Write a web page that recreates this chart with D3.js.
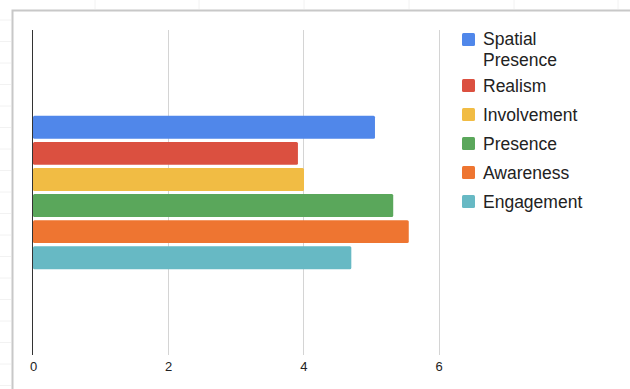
<!DOCTYPE html>
<html>
<head>
<meta charset="utf-8">
<script src="https://cdn.jsdelivr.net/npm/d3@7"></script>
<style>
    body { margin: 0; background: #fff; }
    svg { display: block; font-family: "Liberation Sans", Arial, sans-serif; }
</style>
</head>
<body>
<div id="view"></div>
<script>
// data
var categories = ["Score"];
var series = ["Spatial Presence", "Realism", "Involvement", "Presence", "Awareness", "Engagement"];
var values = [5.06, 3.92, 4.01, 5.33, 5.56, 4.71];
var colors = ["#5087ea", "#db5040", "#f1bc44", "#5aa75b", "#ee7531", "#67b9c4"];
var ticks = [0, 2, 4, 6];

var view = {
    width: 630,
    height: 389,
    left: 33,
    top: 30,
    bottom: 355,
};

var svg = d3.select("#view").append("svg")
    .attr("width", view.width)
    .attr("height", view.height)
;

// faint spreadsheet cells behind the chart
svg.append("g")
    .selectAll("line")
    .data([95, 199, 304, 409, 514, 618])
    .enter().append("line")
    .attr("x1", d => d).attr("x2", d => d)
    .attr("y1", 0).attr("y2", 9)
    .attr("stroke", "#f2f2f2")
;
svg.append("g")
    .selectAll("line")
    .data(d3.range(20, 389, 21.5))
    .enter().append("line")
    .attr("x1", 0).attr("x2", 11)
    .attr("y1", d => d).attr("y2", d => d)
    .attr("stroke", "#f2f2f2")
;

// chart frame
svg.append("path")
    .attr("d", `M12.5,${view.height} V10.5 H${view.width}`)
    .attr("fill", "none")
    .attr("stroke", "#c8c8c8")
    .attr("stroke-width", 2)
;

var x = d3.scaleLinear().domain([0, 6]).range([view.left, 438.5]);
var y = d3.scaleBand().domain(categories)
    .range([view.top, view.bottom])
    .paddingInner(0).paddingOuter(0.56);
var ys = d3.scaleBand().domain(series)
    .range([0, y.bandwidth()])
    .paddingInner(0.12);

// gridlines
svg.append("g")
    .selectAll("line")
    .data(ticks.filter(d => d !== 0))
    .enter().append("line")
    .attr("x1", d => Math.round(x(d)) + 0.5)
    .attr("x2", d => Math.round(x(d)) + 0.5)
    .attr("y1", view.top).attr("y2", view.bottom)
    .attr("stroke", "#d4d4d4")
;

// x axis labels
var axis = svg.append("g")
    .attr("transform", `translate(0, ${view.bottom})`)
    .call(d3.axisBottom(x).tickValues(ticks).tickSize(0).tickPadding(7).tickFormat(d3.format("d")))
;
axis.select(".domain").remove();
axis.selectAll("text")
    .attr("font-size", 13)
    .attr("font-family", "Liberation Sans, Arial, sans-serif")
    .attr("fill", "#222")
;

// bars
svg.append("g")
    .selectAll("rect")
    .data(series.map((s, i) => ({name: s, value: values[i], color: colors[i], cat: categories[0]})))
    .enter().append("rect")
    .attr("x", x(0))
    .attr("y", d => y(d.cat) + ys(d.name))
    .attr("width", d => x(d.value) - x(0))
    .attr("height", ys.bandwidth())
    .attr("rx", 1.5)
    .attr("fill", d => d.color)
;

// zero line
svg.append("line")
    .attr("x1", Math.round(x(0)) - 0.5).attr("x2", Math.round(x(0)) - 0.5)
    .attr("y1", view.top).attr("y2", view.bottom)
    .attr("stroke", "#333")
;

// legend (long name wraps onto two lines like the original)
var rowY = 0;
var legend = svg.append("g").attr("transform", "translate(462, 33)");
series.forEach((s, i) => {
    var lines = s === "Spatial Presence" ? ["Spatial", "Presence"] : [s];
    var g = legend.append("g").attr("transform", `translate(0, ${rowY})`);
    g.append("rect")
        .attr("width", 13).attr("height", 13)
        .attr("rx", 1.5)
        .attr("fill", colors[i]);
    g.selectAll("text").data(lines).enter().append("text")
        .attr("x", 21)
        .attr("y", (d, j) => (lines.length > 1 ? 12 : 13) + j * 20.5)
        .attr("font-size", 17.5)
        .attr("fill", "#222")
        .text(d => d);
    rowY += 29 + (lines.length - 1) * 17;
});
</script>
</body>
</html>
